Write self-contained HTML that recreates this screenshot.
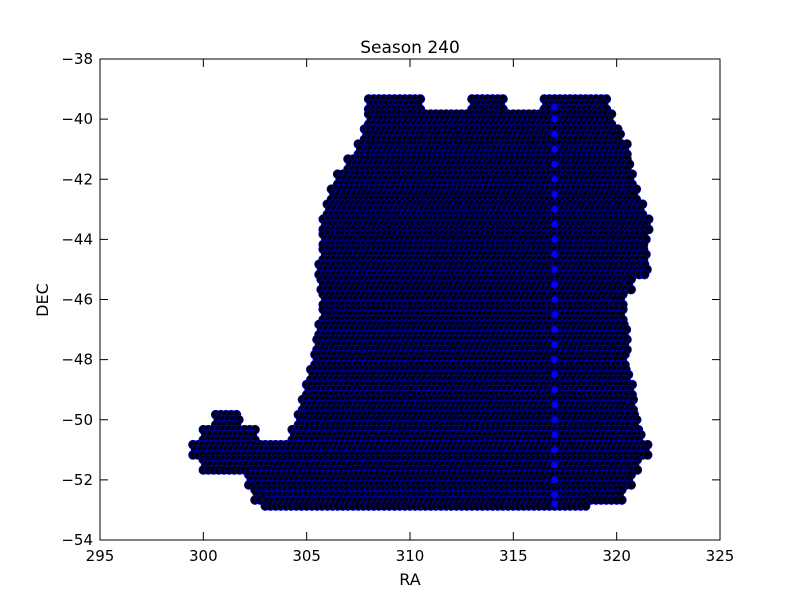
<!DOCTYPE html>
<html><head><meta charset="utf-8"><style>
body{margin:0;background:#fff;}
svg{display:block;font-family:"DejaVu Sans","Liberation Sans",sans-serif;}
</style></head><body>
<svg id="chart" width="800" height="600">
<rect width="800" height="600" fill="#fff"/>
<g id="marks"></g>
<g id="axes"></g>
<text x="410" y="53" text-anchor="middle" font-size="17">Season 240</text>
<text x="410" y="585" text-anchor="middle" font-size="16">RA</text>
<text x="48" y="300" text-anchor="middle" font-size="16" transform="rotate(-90 48 300)">DEC</text>
</svg>
<script>
const xTicks=[295,300,305,310,315,320,325];
const yTicks=[-38,-40,-42,-44,-46,-48,-50,-52,-54];
const rowDec=[-39.5,-39.5,-39.5,-40,-40.5,-41,-41.5,-42,-42.5,-43,-43.5,-44,-44.5,-45,-45.5,-46,-46.5,-47,-47.5,-48,-48.5,-49,-49.5,-50,-50,-50.5,-50.5,-51,-51.5,-52,-52.5,-52.7];
const rowRaStart=[308,313,316.5,308,307.8,307.5,307,306.5,306.2,306,305.8,305.8,305.8,305.6,305.7,305.8,305.8,305.6,305.5,305.4,305.2,305,304.8,300.6,304.6,300,304.3,299.5,300,302.2,302.5,303];
const rowRaEnd=[310.5,314.5,319.5,319.8,320.2,320.5,320.7,320.8,321,321.3,321.6,321.5,321.5,321.5,320.8,320.3,320.3,320.5,320.6,320.5,320.6,320.8,320.9,301.8,321,302.5,321.2,321.5,321,320.8,320.3,318.5];
const columnRa=317;
const columnDec=[-39.6,-40,-40.5,-41,-41.5,-42,-42.5,-43,-43.5,-44,-44.5,-45,-45.5,-46,-46.5,-47,-47.5,-48,-48.5,-49,-49.5,-50,-50.5,-51,-51.5,-52,-52.5,-52.8];
const L=100,R=720,T=59,B=540;
const x=v=>L+(v-295)/(325-295)*(R-L);
const y=v=>T+(v-(-38))/(-54-(-38))*(B-T);
const NS="http://www.w3.org/2000/svg";
const marks=document.getElementById('marks');
const step=0.25;
const subOffsets=[0.17,0,-0.17];
for(let i=0;i<rowDec.length;i++){
  subOffsets.forEach((o,k)=>{
    for(let ra=rowRaStart[i]+(k%2)*0.12;ra<=rowRaEnd[i]+1e-6;ra+=step){
      const c=document.createElementNS(NS,'circle');
      c.setAttribute('cx',x(ra));c.setAttribute('cy',y(rowDec[i]+o));c.setAttribute('r',4.5);
      c.setAttribute('fill','#000014');c.setAttribute('stroke','#0000dd');c.setAttribute('stroke-width','0.6');
      
      
      marks.appendChild(c);
    }
  });
}
for(let j=0;j<columnDec.length;j++){
  const c=document.createElementNS(NS,'circle');
  c.setAttribute('cx',x(columnRa));c.setAttribute('cy',y(columnDec[j]));c.setAttribute('r',3.5);
  c.setAttribute('fill','#0000ff');c.setAttribute('stroke','#000080');c.setAttribute('stroke-width','0.6');
  
  
  marks.appendChild(c);
}
const axes=document.getElementById('axes');
function add(tag,attrs,txt){const e=document.createElementNS(NS,tag);for(const k in attrs)e.setAttribute(k,attrs[k]);if(txt!==undefined)e.textContent=txt;axes.appendChild(e);return e;}
const frame=add('rect',{x:L,y:T,width:R-L,height:B-T,fill:'none',stroke:'#000','stroke-width':1});


xTicks.forEach(v=>{
  const px=x(v);
  add('line',{x1:px,x2:px,y1:B,y2:B-8,stroke:'#000'});
  add('line',{x1:px,x2:px,y1:T,y2:T+8,stroke:'#000'});
  const t=add('text',{x:px,y:B+21,'text-anchor':'middle','font-size':15},String(v));
  
  
});
yTicks.forEach(v=>{
  const py=y(v);
  add('line',{x1:L,x2:L+8,y1:py,y2:py,stroke:'#000'});
  add('line',{x1:R,x2:R-8,y1:py,y2:py,stroke:'#000'});
  const t=add('text',{x:L-7,y:py+5,'text-anchor':'end','font-size':15},'\u2212'+Math.abs(v));
  
  
});
</script>
</body></html>
